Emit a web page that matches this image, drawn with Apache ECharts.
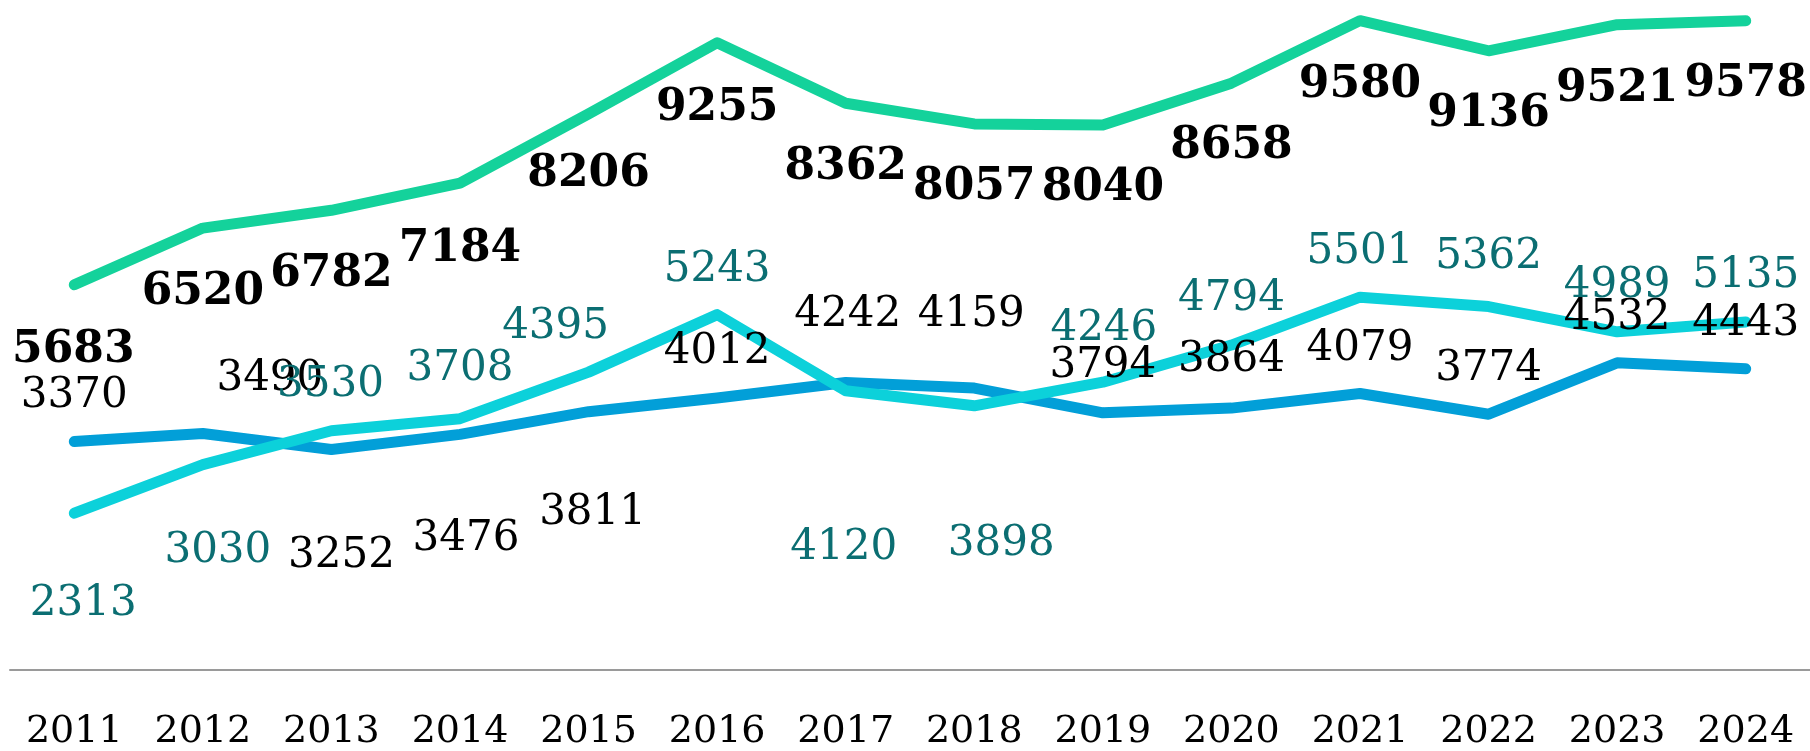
<!DOCTYPE html>
<html>
<head>
<meta charset="utf-8">
<title>chart</title>
<script src="https://cdn.jsdelivr.net/npm/echarts/dist/echarts.min.js"></script>
<style>
  html, body { margin: 0; padding: 0; background: #fff; }
  #main { width: 1810px; height: 751px; }
</style>
</head>
<body>
<div id="main"></div>
<script>
// 数据
var years = ['2011', '2012', '2013', '2014', '2015', '2016', '2017', '2018', '2019', '2020', '2021', '2022', '2023', '2024']
var greenValues = [5683, 6520, 6782, 7184, 8206, 9255, 8362, 8057, 8040, 8658, 9580, 9136, 9521, 9578]
var blueValues = [3370, 3490, 3252, 3476, 3811, 4012, 4242, 4159, 3794, 3864, 4079, 3774, 4532, 4443]
var cyanValues = [2313, 3030, 3530, 3708, 4395, 5243, 4120, 3898, 4246, 4794, 5501, 5362, 4989, 5135]

// 标签偏移 (像素, 相对数据点)
var greenOffsets = [[-1, 66], [0, 64], [0, 64], [0, 66], [0, 61], [0, 66], [0, 64], [0, 64], [0, 64], [0, 63], [0, 65], [0, 64], [0, 65], [0, 64]]
var blueOffsets = [[0, -45], [67, -54], [10, 107], [6, 105], [4, 101], [0, -46], [2, -67], [-3, -73], [0, -47], [0, -48], [0, -44], [0, -45], [0, -45], [0, -45]]
var cyanOffsets = [[9, 91], [15, 86], [-1, -46], [0, -50], [-33, -45], [0, -45], [-2, 157], [27, 138], [1, -53], [0, -46], [0, -45], [0, -49], [0, -46], [0, -46]]

var font = 'DejaVu Serif'

function withLabels (values, offsets) {
  return values.map(function (v, i) {
    return { value: v, label: { offset: offsets[i] } }
  })
}

function lineSeries (name, values, offsets, color, labelColor, bold) {
  return {
    name: name,
    type: 'line',
    data: withLabels(values, offsets),
    symbol: 'circle',
    symbolSize: 1,
    showSymbol: true,
    itemStyle: { color: color },
    lineStyle: { color: color, width: 11, cap: 'round', join: 'round' },
    label: {
      show: true,
      position: 'inside',
      color: labelColor,
      fontFamily: font,
      fontSize: bold ? 44 : 42,
      fontWeight: bold ? 'bold' : 'normal',
      lineHeight: bold ? 44 : 42
    },
    emphasis: { disabled: true },
    animation: false
  }
}

var myChart = echarts.init(document.getElementById('main'))
var option = {
  animation: false,
  grid: { left: 10, right: 0, top: 0, bottom: 81 },
  xAxis: {
    type: 'category',
    data: years,
    boundaryGap: true,
    axisLine: { lineStyle: { color: '#9a9a9a', width: 2 } },
    axisTick: { show: false },
    axisLabel: {
      color: '#000',
      fontFamily: font,
      fontSize: 38,
      lineHeight: 38,
      margin: 43,
      interval: 0
    }
  },
  yAxis: {
    type: 'value',
    min: 0,
    max: 9885,
    show: false,
    splitLine: { show: false }
  },
  series: [
    lineSeries('green', greenValues, greenOffsets, '#14d29b', '#000', true),
    lineSeries('blue', blueValues, blueOffsets, '#029fd8', '#000', false),
    lineSeries('cyan', cyanValues, cyanOffsets, '#0cd1da', '#0b6e72', false)
  ]
}
myChart.setOption(option)
</script>
</body>
</html>
